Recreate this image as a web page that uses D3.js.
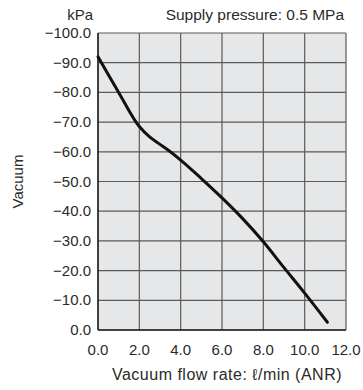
<!DOCTYPE html>
<html>
<head>
<meta charset="utf-8">
<script src="https://cdn.jsdelivr.net/npm/d3@7"></script>
<style>
  body { margin: 0; background: #fff; }
  text { font-family: "Liberation Sans", Arial, sans-serif; fill: #2a2a2a; }
</style>
</head>
<body>
<svg id="chart" width="363" height="390"></svg>
<script>
// flow rate (l/min ANR) vs vacuum (kPa)
const flowRate = [0, 1, 2, 2.5, 3, 3.5, 4, 5, 6, 7, 8, 9, 10, 11.1];
const vacuum = [-92, -80, -68.5, -65, -62.5, -60, -57.2, -51, -44.5, -37.5, -29.7, -21, -12.4, -2.6];
const xTicks = [0, 2, 4, 6, 8, 10, 12];
const yTicks = [0, -10, -20, -30, -40, -50, -60, -70, -80, -90, -100];

const svg = d3.select("#chart");
const margin = {left: 98, right: 17, top: 33, bottom: 60};
const width = 363, height = 390;

const x = d3.scaleLinear().domain([0, 12]).range([margin.left, width - margin.right]);
const y = d3.scaleLinear().domain([0, -100]).range([height - margin.bottom, margin.top]);

const fmt = v => (v < 0 ? "\u2212" : "") + Math.abs(v).toFixed(1);

// plot background
svg.append("rect")
  .attr("x", x(0)).attr("y", y(-100))
  .attr("width", x(12) - x(0)).attr("height", y(0) - y(-100))
  .attr("fill", "#e6e7e8");

// grid
const grid = svg.append("g").attr("stroke", "#5a5a5a").attr("stroke-width", 1.2);
grid.selectAll("line.v").data(xTicks).join("line")
  .attr("x1", d => x(d)).attr("x2", d => x(d))
  .attr("y1", y(0)).attr("y2", y(-100));
grid.selectAll("line.h").data(yTicks).join("line")
  .attr("x1", x(0)).attr("x2", x(12))
  .attr("y1", d => y(d)).attr("y2", d => y(d));

// left and bottom axis lines are darker
svg.append("line").attr("x1", x(0)).attr("x2", x(0)).attr("y1", y(0)).attr("y2", y(-100))
  .attr("stroke", "#222").attr("stroke-width", 1.5);
svg.append("line").attr("x1", x(0)).attr("x2", x(12)).attr("y1", y(0)).attr("y2", y(0))
  .attr("stroke", "#222").attr("stroke-width", 1.5);

// tick labels
svg.append("g").selectAll("text").data(yTicks).join("text")
  .attr("x", x(0) - 7).attr("y", d => y(d) + 5)
  .attr("text-anchor", "end").attr("font-size", 15)
  .text(fmt);
svg.append("g").selectAll("text").data(xTicks).join("text")
  .attr("x", d => x(d)).attr("y", 355)
  .attr("text-anchor", "middle").attr("font-size", 15)
  .text(fmt);

// curve
const pts = flowRate.map((f, i) => [f, vacuum[i]]);
svg.append("path")
  .datum(pts)
  .attr("fill", "none")
  .attr("stroke", "#111")
  .attr("stroke-width", 3)
  .attr("stroke-linecap", "round")
  .attr("d", d3.line().x(d => x(d[0])).y(d => y(d[1])).curve(d3.curveMonotoneX));

// labels
svg.append("text").attr("x", 93).attr("y", 20).attr("text-anchor", "end")
  .attr("font-size", 15).text("kPa");
svg.append("text").attr("x", x(12) - 2).attr("y", 20).attr("text-anchor", "end")
  .attr("font-size", 15.5).text("Supply pressure: 0.5 MPa");
svg.append("text").attr("x", 227).attr("y", 380).attr("text-anchor", "middle")
  .attr("font-size", 16).attr("letter-spacing", 0.5).text("Vacuum flow rate: \u2113/min (ANR)");
svg.append("text")
  .attr("transform", `translate(23, ${(y(0) + y(-100)) / 2}) rotate(-90)`)
  .attr("text-anchor", "middle").attr("font-size", 15).text("Vacuum");
</script>
</body>
</html>
